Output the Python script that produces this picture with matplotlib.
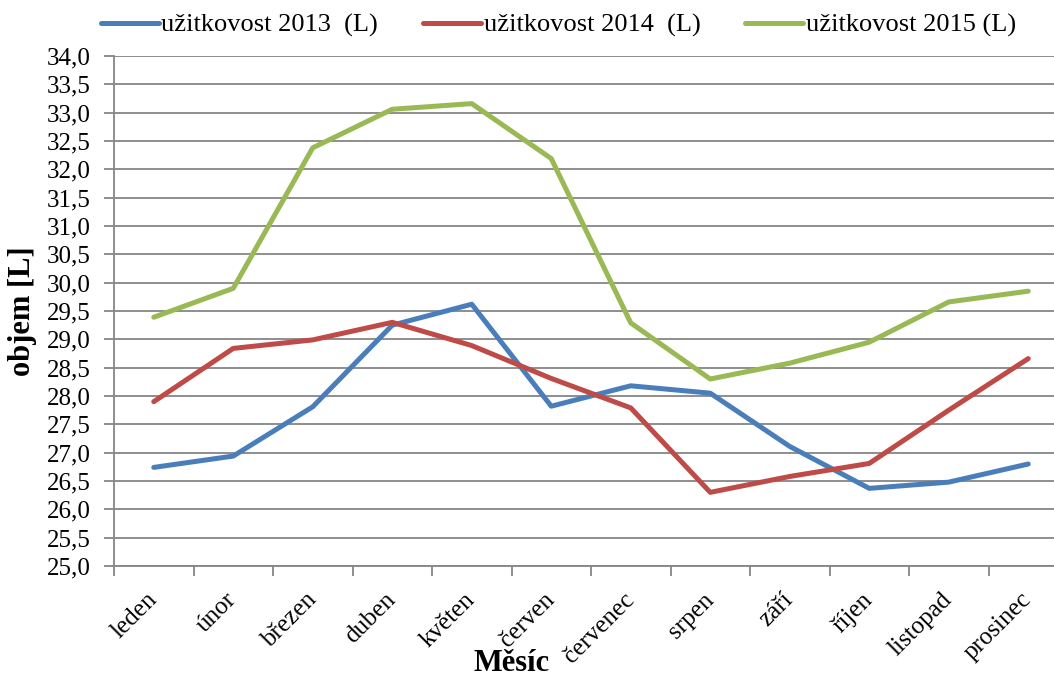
import numpy as np
import matplotlib
matplotlib.use('Agg')
from matplotlib import pyplot as plt
from matplotlib.ticker import FuncFormatter, MultipleLocator

plt.rcParams['font.family'] = ['Liberation Serif', 'DejaVu Serif']

months = ['leden', 'únor', 'březen', 'duben', 'květen', 'červen',
          'červenec', 'srpen', 'září', 'říjen', 'listopad', 'prosinec']
u2013 = [26.74, 26.94, 27.81, 29.25, 29.62, 27.82, 28.18, 28.05, 27.11, 26.37, 26.48, 26.80]
u2014 = [27.90, 28.84, 28.99, 29.30, 28.89, 28.31, 27.79, 26.30, 26.58, 26.81, 27.75, 28.66]
u2015 = [29.39, 29.90, 32.38, 33.06, 33.16, 32.19, 29.29, 28.30, 28.58, 28.95, 29.66, 29.85]
labels = ['užitkovost 2013  (L)', 'užitkovost 2014  (L)', 'užitkovost 2015 (L)']
colors = ['#4A7EBB', '#BE4B48', '#98B954']

fig = plt.figure(figsize=(10.54, 6.78), dpi=100)
# plot area runs past the right edge of the picture, as in the original
ax = fig.add_axes([114 / 1054, 112 / 678, 954 / 1054, 510 / 678])

x = np.arange(len(months))
for ys, lab, c in zip([u2013, u2014, u2015], labels, colors):
    ax.plot(x, ys, color=c, linewidth=3.6, label=lab, solid_capstyle='round')

ax.set_xlim(-0.5, len(months) - 0.5)
ax.set_ylim(25, 34)
ax.yaxis.set_major_locator(MultipleLocator(0.5))
ax.yaxis.set_major_formatter(FuncFormatter(lambda v, p: ('%.1f' % v).replace('.', ',')))
ax.grid(axis='y', color='#868686', linewidth=1.3)
ax.set_axisbelow(True)

for s in ['top', 'right']:
    ax.spines[s].set_visible(False)
for s in ['left', 'bottom']:
    ax.spines[s].set_color('#868686')
    ax.spines[s].set_linewidth(1.3)

ax.set_xticks(np.arange(len(months) + 1) - 0.5, minor=False)
ax.set_xticklabels([])
ax.set_xticks(x, minor=True)
ax.set_xticklabels(months, minor=True, rotation=45, ha='right', va='center',
                   rotation_mode='anchor', fontsize=18)
ax.tick_params(axis='x', which='major', length=7, color='#868686', width=1.3)
ax.tick_params(axis='x', which='minor', length=0, pad=22)
ax.tick_params(axis='y', length=7, color='#868686', width=1.3, labelsize=18, pad=10)

ax.set_ylabel('objem [L]', fontsize=22, fontweight='bold', labelpad=7)
fig.text(512 / 1054, 0.0, 'Měsíc', fontsize=22, fontweight='bold', ha='center', va='bottom')

fig.legend(loc='upper left', bbox_to_anchor=(77 / 1054, 1.015), ncol=3, frameon=False,
           fontsize=19, handlelength=2.2, handletextpad=0.1, columnspacing=1.7)

plt.savefig('out.png', dpi=100)
